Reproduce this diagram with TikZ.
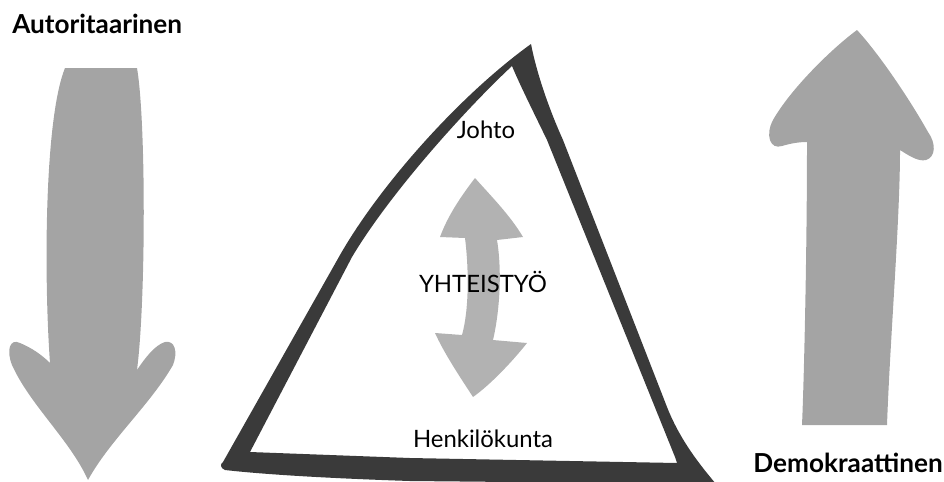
\documentclass[tikz,border=0pt]{standalone}
\usepackage{fontspec}
\setmainfont{Lato}
\usepackage{xcolor}
\usepackage{tikz}
\definecolor{arrowgray}{HTML}{A4A4A4}
\definecolor{midgray}{HTML}{B2B2B2}
\definecolor{framegray}{HTML}{3A3A3A}

\begin{document}
\begin{tikzpicture}[x=0.025cm,y=-0.025cm,
  sidearrow/.style={fill=arrowgray},
  midarrow/.style={fill=midgray},
  frame/.style={fill=framegray,even odd rule},
  lbl/.style={inner sep=0pt,font=\fontsize{17}{20}\selectfont},
  ttl/.style={inner sep=0pt,font=\fontsize{18.6}{22}\selectfont\bfseries}]
  \useasboundingbox (0,0) rectangle (944,481);
  % left arrow, pointing down
  \fill[sidearrow] (65,68) -- (137,68) .. controls (146,120) and (146,300) .. (137,370)
    .. controls (145,358) and (155,345) .. (165,342) .. controls (175,340) and (178,352) .. (173,365)
    .. controls (150,405) and (110,440) .. (88,480)
    .. controls (70,440) and (30,405) .. (12,365) .. controls (6,350) and (10,338) .. (20,343)
    .. controls (32,348) and (42,355) .. (50,363)
    .. controls (44,280) and (44,120) .. (65,68) -- cycle;
  % right arrow, pointing up
  \fill[sidearrow] (857,30) .. controls (830,50) and (790,90) .. (773,120)
    .. controls (765,135) and (770,150) .. (782,146) .. controls (792,143) and (800,142) .. (807,142)
    .. controls (807,250) and (804,380) .. (802,425) -- (887,425)
    .. controls (890,340) and (900,220) .. (900,150)
    .. controls (908,155) and (918,162) .. (926,160) .. controls (936,157) and (936,143) .. (928,132)
    .. controls (910,100) and (880,55) .. (857,30) -- cycle;
  % triangle frame
  \fill[frame] (531,44) .. controls (535,65) and (545,100) .. (563,140) -- (667,407)
    .. controls (680,440) and (700,465) .. (716,484) -- (410,481)
    .. controls (320,478) and (260,474) .. (225,470) .. controls (220,468) and (220,464) .. (223,462)
    -- (340,255) .. controls (380,185) and (460,95) .. (531,44) -- cycle
    (512,66) .. controls (520,85) and (530,105) .. (547,140) -- (675,457) -- (677,463)
    -- (410,458) -- (250,452) -- (352,257) .. controls (392,190) and (470,105) .. (512,66) -- cycle;
  % double arrow in the middle
  \fill[midarrow] (475,178) .. controls (462,195) and (448,215) .. (440,237) -- (465,238)
    .. controls (469,270) and (469,310) .. (462,335) -- (435,333)
    .. controls (445,355) and (462,380) .. (473,397)
    .. controls (490,385) and (512,362) .. (527,343) -- (493,340)
    .. controls (500,310) and (502,270) .. (497,240) -- (523,237)
    .. controls (510,215) and (490,195) .. (475,178) -- cycle;
  \node[ttl,anchor=base west] (autor) at (12,33) {Autoritaarinen};
  \node[ttl,anchor=base east] (demok) at (943,472) {Demokraattinen};
  \node[lbl,anchor=base] (johto) at (486,138) {Johto};
  \node[lbl,anchor=base] (yhteis) at (483,292) {YHTEISTYÖ};
  \node[lbl,anchor=base] (henk) at (483,447) {Henkilökunta};
\end{tikzpicture}
\end{document}
